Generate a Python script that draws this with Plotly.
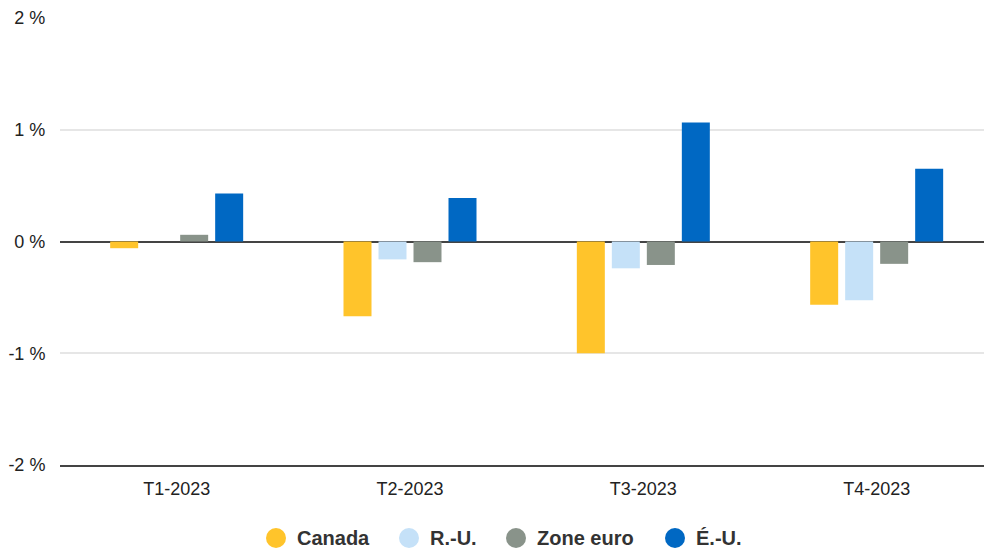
import plotly.graph_objects as go

categories = ["T1-2023", "T2-2023", "T3-2023", "T4-2023"]
series_names = ["Canada", "R.-U.", "Zone euro", "É.-U."]
canada = [-0.06, -0.67, -1.00, -0.565]
ru = [0.0, -0.16, -0.24, -0.525]
zone_euro = [0.06, -0.185, -0.21, -0.20]
eu = [0.43, 0.39, 1.065, 0.65]
y_ticks = [-2, -1, 0, 1, 2]
y_tick_labels = ["-2 %", "-1 %", "0 %", "1 %", "2 %"]

colors = ["#FFC42B", "#C5E1F8", "#89938A", "#0068C3"]
values = [canada, ru, zone_euro, eu]

W, H = 984, 550
ML, MR, MT, MB = 60, 0, 18, 85

fig = go.Figure()
for name, vals, col in zip(series_names, values, colors):
    fig.add_trace(go.Bar(x=categories, y=vals, name=name, marker_color=col,
                         marker_line_width=0, showlegend=False))

# custom legend (circle swatches + bold labels), positioned in pixels
legend_circle_px = [276, 409, 516, 675]
legend_y_px = 538
pw, ph = W - ML - MR, H - MT - MB
for name, col, cx in zip(series_names, colors, legend_circle_px):
    xp = (cx - ML) / pw
    yp = (H - MB - legend_y_px) / ph
    fig.add_shape(type="circle", xref="paper", yref="paper",
                  xsizemode="pixel", ysizemode="pixel",
                  xanchor=xp, yanchor=yp, x0=-10, x1=10, y0=-10, y1=10,
                  fillcolor=col, line_width=0)
    fig.add_annotation(xref="paper", yref="paper", x=(cx + 19 - ML) / pw, y=yp,
                       xanchor="left", yanchor="middle", showarrow=False,
                       text="<b>" + name + "</b>",
                       font=dict(size=20, color="#333333"))

fig.update_layout(
    width=W, height=H,
    margin=dict(l=ML, r=MR, t=MT, b=MB, autoexpand=False),
    paper_bgcolor="white", plot_bgcolor="white",
    barmode="group", bargap=0.4, bargroupgap=0.2,
    font=dict(family="Liberation Sans, Arial, sans-serif", size=18, color="#222222"),
    showlegend=False,
    xaxis=dict(showgrid=False, showline=True, linecolor="#444444", linewidth=1.5,
               range=[-0.5, 3.46],
               ticks="outside", ticklen=7, tickcolor="rgba(0,0,0,0)",
               tickfont=dict(size=18, color="#222222")),
    yaxis=dict(range=[-2, 2], tickvals=y_ticks, ticktext=y_tick_labels,
               showgrid=True, gridcolor="#E6E6E6", gridwidth=1.5,
               zeroline=True, zerolinecolor="#444444", zerolinewidth=1.5,
               ticks="outside", ticklen=10, tickcolor="rgba(0,0,0,0)",
               tickfont=dict(size=18, color="#222222"), fixedrange=True),
)

fig.write_html("out.html")
